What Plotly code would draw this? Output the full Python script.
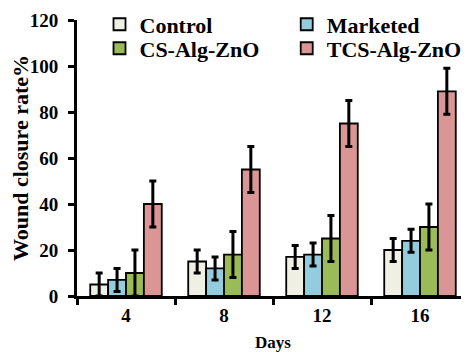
import plotly.graph_objects as go

days = ["4", "8", "12", "16"]
series_names = ["Control", "Marketed", "CS-Alg-ZnO", "TCS-Alg-ZnO"]
control = [5, 15, 17, 20]
marketed = [7, 12, 18, 24]
cs_alg = [10, 18, 25, 30]
tcs_alg = [40, 55, 75, 89]
control_err = [5, 5, 5, 5]
marketed_err = [5, 5, 5, 5]
cs_alg_err = [10, 10, 10, 10]
tcs_alg_err = [10, 10, 10, 10]
colors = ["#EFEFE4", "#93CDDD", "#9BBB59", "#D99694"]
legend_ids = ["legend", "legend2", "legend3", "legend4"]

values = [control, marketed, cs_alg, tcs_alg]
errors = [control_err, marketed_err, cs_alg_err, tcs_alg_err]

FONT = "Liberation Serif"

fig = go.Figure()
for name, v, e, c, lg in zip(series_names, values, errors, colors, legend_ids):
    fig.add_trace(go.Bar(
        x=days, y=v, name=name, legend=lg,
        marker=dict(color=c, line=dict(color="black", width=1.8)),
        error_y=dict(type="data", array=e, visible=True, color="black",
                     thickness=3, width=3.5),
    ))

legend_common = dict(orientation="v", xanchor="left", yanchor="top",
                     font=dict(family=FONT, size=22, color="black", weight="bold"),
                     bgcolor="rgba(0,0,0,0)", itemwidth=30)

col1, col2 = 0.0574, 0.535
row1, row2 = 1.06, 0.973

fig.update_layout(
    width=461, height=344,
    margin=dict(l=69, r=0, t=12, b=56, autoexpand=False),
    paper_bgcolor="white", plot_bgcolor="white",
    barmode="group", bargap=0.27, bargroupgap=0,
    font=dict(family=FONT, color="black"),
    showlegend=True,
    legend=dict(x=col1, y=row1, **legend_common),
    legend2=dict(x=col2, y=row1, **legend_common),
    legend3=dict(x=col1, y=row2, **legend_common),
    legend4=dict(x=col2, y=row2, **legend_common),
    xaxis=dict(
        type="category", range=[-0.5, 3.5], automargin=False,
        showline=True, linecolor="black", linewidth=3,
        ticks="outside", tickson="boundaries", ticklen=6, tickwidth=3, tickcolor="black",
        tickfont=dict(family=FONT, size=19, weight="bold"),
        title=dict(text="Days", font=dict(family=FONT, size=17, weight="bold"), standoff=14),
        showgrid=False, zeroline=False,
    ),
    yaxis=dict(
        range=[0, 120], tickvals=[0, 20, 40, 60, 80, 100, 120], automargin=False,
        showline=True, linecolor="black", linewidth=3,
        ticks="outside", ticklen=6, tickwidth=3, tickcolor="black",
        ticklabelstandoff=6,
        tickfont=dict(family=FONT, size=19, weight="bold"),
        title=dict(text="Wound closure rate%", font=dict(family=FONT, size=22, weight="bold"), standoff=8),
        showgrid=False, zeroline=False,
    ),
)

fig.write_html("out.html")
